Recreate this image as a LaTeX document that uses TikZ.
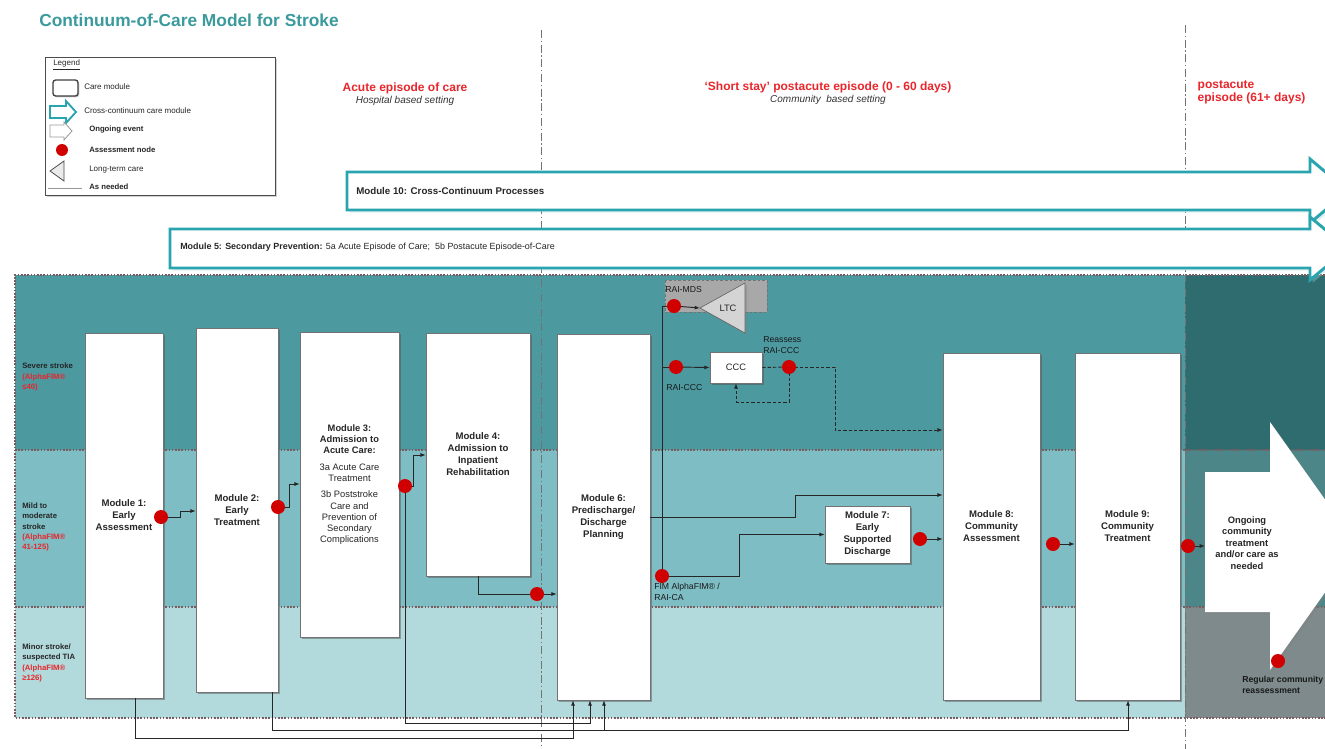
\documentclass[tikz,border=0pt]{standalone}
\usepackage{fontspec}
\setmainfont{Liberation Sans}
\usetikzlibrary{shadows,arrows.meta,shapes.geometric,calc}

\definecolor{titleteal}{HTML}{3A9A9C}
\definecolor{bandsev}{HTML}{4C99A0}
\definecolor{bandmild}{HTML}{7DBDC3}
\definecolor{bandmin}{HTML}{B2DADD}
\definecolor{rdark}{HTML}{2E6C6F}
\definecolor{rmid}{HTML}{4C8688}
\definecolor{rgrey}{HTML}{7E8A8B}
\definecolor{arrteal}{HTML}{2AA5AF}
\definecolor{dotred}{HTML}{D00000}
\definecolor{hdrred}{HTML}{E8262B}
\definecolor{sepline}{HTML}{7A5C60}
\definecolor{ltcgrey}{HTML}{D4D4D4}
\definecolor{ltcbox}{HTML}{A8A8A8}

\begin{document}
\begin{tikzpicture}[x=0.75pt,y=-0.75pt,
  module/.style={draw=black!55, fill=white, line width=0.4pt, inner sep=1pt,
    drop shadow={shadow xshift=1.6pt, shadow yshift=-1.6pt, opacity=0.45, fill=black!70},
    font=\fontsize{7.2}{9}\selectfont\bfseries, align=center, text=black!85},
  dot/.style={circle, fill=dotred, inner sep=0pt, minimum size=10.5pt},
  conn/.style={draw=black!85, line width=0.7pt},
  arr/.style={conn, -{Latex[length=4pt,width=3pt]}},
  dconn/.style={conn, dash pattern=on 2.5pt off 1.5pt},
  darr/.style={dconn, -{Latex[length=4pt,width=3pt]}},
  divider/.style={draw=black!55, line width=0.6pt, dash pattern=on 6pt off 2pt on 1pt off 2pt},
  bandborder/.style={draw=sepline, line width=1.1pt, dash pattern=on 1.2pt off 1.2pt},
  xarrow/.style={draw=arrteal, line width=2.2pt, fill=white,
    drop shadow={shadow xshift=2pt, shadow yshift=-2pt, opacity=0.35, fill=arrteal!40}},
  hdr/.style={font=\fontsize{9}{10.5}\selectfont\bfseries, text=hdrred},
  subhdr/.style={font=\fontsize{7.5}{9}\selectfont\itshape, text=black!80},
  leg/.style={anchor=west, font=\fontsize{6}{7}\selectfont, inner sep=0pt, text=black!85},
  legb/.style={leg, font=\fontsize{5.8}{7}\selectfont\bfseries},
  bandlbl/.style={anchor=west, align=left, inner sep=0pt, font=\fontsize{5.8}{7.6}\selectfont\bfseries, text=black!85},
  small/.style={font=\fontsize{6.5}{8}\selectfont, inner sep=0pt, text=black!90},
]
\useasboundingbox (0,0) rectangle (1325,749);
\clip (0,0) rectangle (1325,749);
\fill[white] (0,0) rectangle (1325,749);

% title
\node[anchor=west, inner sep=0pt, font=\fontsize{13}{15}\selectfont\bfseries, text=titleteal] (title) at (39,20) {Continuum-of-Care Model for Stroke};

% bands
\fill[bandsev] (15,275) rectangle (1185,450);
\fill[bandmild] (15,450) rectangle (1185,607);
\fill[bandmin] (15,607) rectangle (1185,718);
\fill[rdark] (1185,275) rectangle (1325,450);
\fill[rmid] (1185,450) rectangle (1325,607);
\fill[rgrey] (1185,607) rectangle (1325,718);
\draw[bandborder] (1325,275) -- (15,275) -- (15,718) -- (1325,718);
\draw[bandborder] (15,450) -- (1325,450);
\draw[bandborder] (15,607) -- (1325,607);

% episode dividers
\draw[divider] (541,30) -- (541,749);
\draw[divider] (1185,25) -- (1185,749);

% headers
\node[hdr] (h1) at (405,88) {Acute episode of care};
\node[subhdr] (s1) at (405,101) {Hospital based setting};
\node[hdr] (h2) at (828,87) {‘Short stay’ postacute episode (0 - 60 days)};
\node[subhdr] (s2) at (828,100) {Community \ based setting};
\node[hdr, anchor=west, align=left, font=\fontsize{9}{10}\selectfont\bfseries] (h3) at (1193,92) {postacute\\episode (61+ days)};

% legend
\node[draw=black!70, line width=0.6pt, fill=white, minimum width=172.5pt, minimum height=103.5pt,
  drop shadow={shadow xshift=1.5pt, shadow yshift=-1.5pt, opacity=0.35}] (legend) at (160,126) {};
\node[leg] (legT) at (53,65) {\underline{Legend}};
\draw[rounded corners=2pt, draw=black!75, line width=1pt, fill=white,
  drop shadow={shadow xshift=1pt, shadow yshift=-1pt, opacity=0.4}] (53,80) rectangle (78,96);
\node[leg] (leg1) at (84,87) {Care module};
\draw[draw=arrteal, line width=1.4pt, fill=white] (50,106) -- (66,106) -- (66,101) -- (76,112) -- (66,123) -- (66,118) -- (50,118) -- cycle;
\node[leg] (leg2) at (84,111) {Cross-continuum care module};
\draw[draw=black!40, fill=white, line width=0.6pt] (50,125) -- (64,125) -- (64,122) -- (72,131) -- (64,140) -- (64,137) -- (50,137) -- cycle;
\node[legb] (leg3) at (89,130) {Ongoing event};
\node[dot, minimum size=9pt] (legdot) at (62,150) {};
\node[legb] (leg4) at (89,150) {Assessment node};
\draw[draw=black!70, fill=black!8, line width=0.6pt] (50,171) -- (64,161) -- (64,181) -- cycle;
\node[leg] (leg5) at (89,170) {Long-term care};
\draw[black!40, line width=0.6pt] (48,188) -- (82,188);
\node[legb] (leg6) at (89,187) {As needed};

% cross-continuum arrows
\draw[xarrow] (347,172) -- (1310,172) -- (1310,159) -- (1348,191) -- (1310,223) -- (1310,210) -- (347,210) -- cycle;
\node[anchor=west, inner sep=0pt, font=\fontsize{7.3}{8}\selectfont\bfseries, text=black!85] (m10) at (356,191) {Module 10: Cross-Continuum Processes};
\draw[xarrow] (170,229) -- (1310,229) -- (1310,217) -- (1348,248.5) -- (1310,280) -- (1310,268) -- (170,268) -- cycle;
\node[anchor=west, inner sep=0pt, font=\fontsize{6.7}{8}\selectfont, text=black!85] (m5) at (180,247) {\textbf{Module 5: Secondary Prevention:} 5a Acute Episode of Care; \ 5b Postacute Episode-of-Care};

% band labels
\node[bandlbl] (bl1) at (22,377) {Severe stroke\\\textcolor{hdrred}{(AlphaFIM®}\\\textcolor{hdrred}{≤40)}};
\node[bandlbl] (bl2) at (22,527) {Mild to\\moderate\\stroke\\\textcolor{hdrred}{(AlphaFIM®}\\\textcolor{hdrred}{41-125)}};
\node[bandlbl] (bl3) at (22,663) {Minor stroke/\\suspected TIA\\\textcolor{hdrred}{(AlphaFIM®}\\\textcolor{hdrred}{≥126)}};

% LTC
\draw[draw=black!55, fill=ltcbox, dash pattern=on 2pt off 1.5pt, line width=0.6pt] (665,280) rectangle (767,312);
\draw[draw=black!60, fill=ltcgrey, line width=0.5pt,
  drop shadow={shadow xshift=1.5pt, shadow yshift=-1.5pt, opacity=0.4}] (700,308) -- (745,283) -- (745,333) -- cycle;
\coordinate (ltctip) at (700,308);
\node[font=\fontsize{7}{8}\selectfont, text=black!85] (ltc) at (728,308) {LTC};

% modules
\node[module, minimum width=58.5pt, minimum height=273.75pt] (M1) at (124,515.5) {Module 1:\\Early\\Assessment};
\node[module, minimum width=61.5pt, minimum height=273pt] (M2) at (237,510) {Module 2:\\Early\\Treatment};
\node[module, minimum width=74.25pt, minimum height=228.75pt, font=\fontsize{7}{8.4}\selectfont\bfseries] (M3) at (349.5,484.5)
  {Module 3:\\Admission to\\Acute Care:\\[4pt]\textmd{3a Acute Care}\\\textmd{Treatment}\\[4pt]\textmd{3b Poststroke}\\\textmd{Care and}\\\textmd{Prevention of}\\\textmd{Secondary}\\\textmd{Complications}};
\node[module, minimum width=78pt, minimum height=182.25pt] (M4) at (478,454.5) {Module 4:\\Admission to\\Inpatient\\Rehabilitation};
\node[module, minimum width=69.75pt, minimum height=274.5pt] (M6) at (603.5,517) {Module 6:\\Predischarge/\\Discharge\\Planning};
\node[module, minimum width=63.75pt, minimum height=42.75pt] (M7) at (867.5,534.5) {Module 7:\\Early\\Supported\\Discharge};
\node[module, minimum width=72.75pt, minimum height=260.25pt] (M8) at (991.5,526.5) {Module 8:\\Community\\Assessment};
\node[module, minimum width=78.75pt, minimum height=260.25pt] (M9) at (1127.5,526.5) {Module 9:\\Community\\Treatment};
\node[module, minimum width=39pt, minimum height=23.25pt, font=\fontsize{7}{8}\selectfont] (CCC) at (736,367.5) {CCC};

% ongoing arrow
\path[fill=white, drop shadow={shadow xshift=1.5pt, shadow yshift=-1.5pt, opacity=0.35}] (1205,472) -- (1270,472) -- (1270,422) -- (1358,546) -- (1270,670) -- (1270,612) -- (1205,612) -- cycle;
\coordinate (ongW) at (1205,546);
\node[font=\fontsize{7}{8.6}\selectfont\bfseries, align=center, text=black!85] (ongT) at (1247,543) {Ongoing\\community\\treatment\\and/or care as\\needed};

% assessment nodes (positions)
\coordinate (d1c) at (161,517);
\coordinate (d2c) at (278,507);
\coordinate (d3c) at (405,486);
\coordinate (d4c) at (537,594);
\coordinate (dmdsc) at (674,306);
\coordinate (dcccc) at (676,367);
\coordinate (drec) at (789,367);
\coordinate (dfimc) at (662,576);
\coordinate (d7c) at (920,539);
\coordinate (d8c) at (1053,544);
\coordinate (d9c) at (1188,546);
\coordinate (dregc) at (1278,661);

% connectors
\draw[arr] (d1c) -- (180,517) |- (M2.west |- 0,511);
\draw[arr] (d2c) -- (289,507) |- (M3.west |- 0,484);
\draw[arr] (d3c) -- (413,486) |- (M4.west |- 0,455);
\draw[conn] (M4.south) |- (d4c);
\draw[arr] (d4c) -- (M6.west |- d4c);
\draw[arr] (M6.east |- 0,517) -- (795,517) |- (M8.west |- 0,495);
\draw[conn] (dfimc) -- (662,306) -- (dmdsc);
\draw[conn] (662,367) -- (dcccc);
\draw[arr] (dmdsc) -- (ltctip);
\draw[arr] (dcccc) -- (CCC.west);
\draw[dconn] (CCC.east) -- (drec);
\draw[darr] (drec) -- (789,402) -| (CCC.south);
\draw[darr] (drec) -- (835,367) |- (M8.west |- 0,430);
\draw[arr] (dfimc) -- (739,576) |- (M7.west);
\draw[arr] (d7c) -- (M8.west |- d7c);
\draw[arr] (d8c) -- (M9.west |- d8c);
\draw[arr] (d9c) -- (ongW);
\draw[arr] (M1.south -| 135,0) |- (573,738) -- (M6.south -| 573,0);
\draw[arr] (M2.south -| 272,0) |- (604,730) -- (M6.south -| 604,0);
\draw[arr] (604,730) -- (1128,730) -- (M9.south -| 1128,0);
\draw[arr] (d3c) |- (590,723) -- (M6.south -| 590,0);

% dots
\foreach \n in {d1,d2,d3,d4,dmds,dccc,dre,dfim,d7,d8,d9,dreg}{\node[dot] (\n) at (\n c) {};}

% small labels
\node[small, anchor=west] (lmds) at (665,290) {RAI-MDS};
\node[small, anchor=west] (lccc) at (666,388) {RAI-CCC};
\node[small, anchor=west, align=left] (lre) at (763,345) {Reassess\\RAI-CCC};
\node[small, anchor=west, align=left] (lfim) at (654,592) {FIM AlphaFIM® /\\RAI-CA};
\node[small, anchor=west, align=left, font=\fontsize{6.5}{8}\selectfont\bfseries] (lreg) at (1242,685) {Regular community\\reassessment};
\end{tikzpicture}
\end{document}
